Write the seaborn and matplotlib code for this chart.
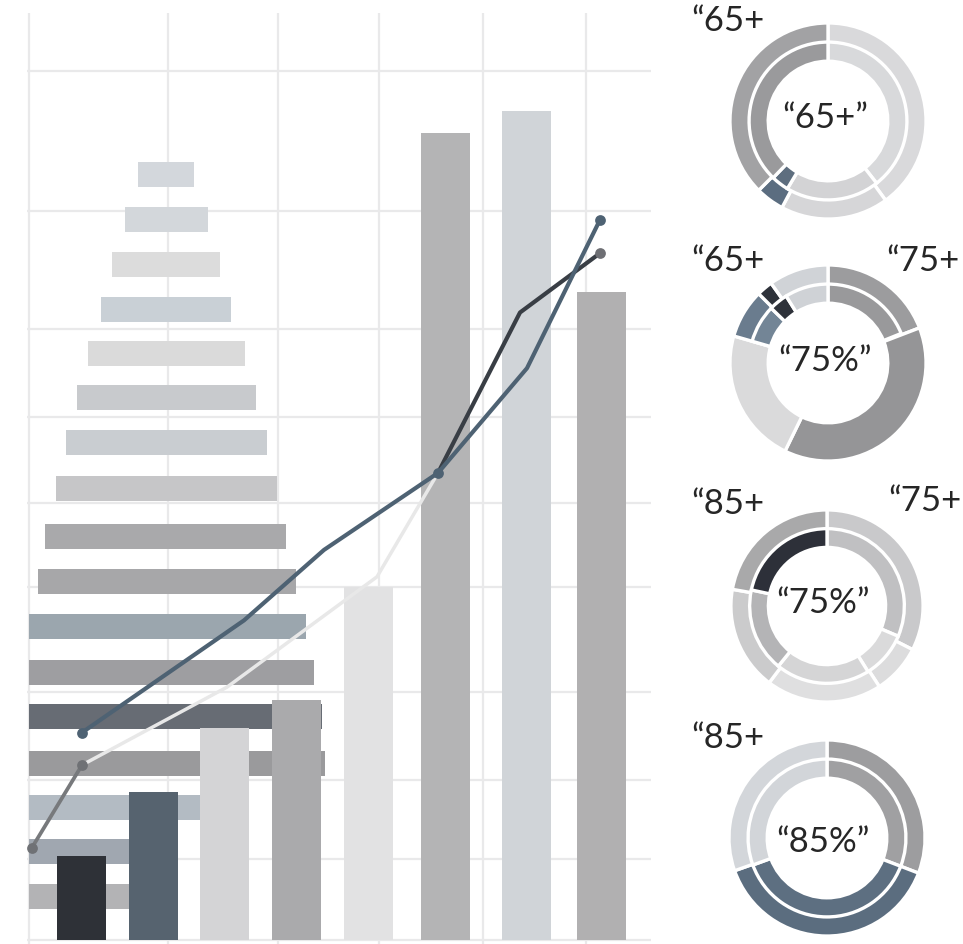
import matplotlib
matplotlib.use("Agg")
import matplotlib.pyplot as plt
import seaborn as sns

# ---------------------------------------------------------------
# datos
# ---------------------------------------------------------------
# barras verticales
bar_x = [5.25, 12.45, 19.55, 26.7, 33.95, 41.6, 49.7, 57.2]
bar_h = [9.1, 16.0, 22.9, 25.9, 38.1, 87.1, 89.4, 69.9]
bar_colors = ["#2e3137", "#56636f", "#d4d4d6", "#aaaaac",
              "#e2e2e3", "#b4b4b5", "#d0d4d8", "#b1b0b1"]

# barras horizontales (piramide)
row_y = [82.6, 77.7, 72.9, 68.0, 63.3, 58.5, 53.7, 48.7, 43.5,
         38.7, 33.8, 28.9, 24.1, 19.1, 14.3, 9.6, 4.7]
row_left = [10.9, 9.6, 8.3, 7.2, 5.9, 4.8, 3.7, 2.7, 1.6,
            0.9, 0.0, 0.0, 0.0, 0.0, 0.0, 0.0, 0.0]
row_right = [16.5, 17.9, 19.1, 20.2, 21.6, 22.7, 23.8, 24.8, 25.7,
             26.7, 27.7, 28.5, 29.3, 29.6, 21.0, 12.0, 12.0]
row_colors = ["#d3d7dc", "#d3d7db", "#dcdcdc", "#c9d0d6", "#dadada",
              "#c8cacd", "#c9cdd1", "#c6c6c8", "#a9a9ab", "#a7a7a9",
              "#9ba6ae", "#9e9ea1", "#676c74", "#9a9a9c", "#b3bbc3",
              "#a0a7b0", "#b3b3b5"]

# lineas
gray_x = [0.3, 5.3]
gray_y = [10.0, 18.9]
light_x = [5.3, 19.8, 34.8, 40.9]
light_y = [18.9, 27.3, 39.2, 50.4]
slate_x = [5.3, 21.5, 29.5, 40.9, 49.8, 57.1]
slate_y = [22.4, 34.5, 42.1, 50.4, 61.7, 77.7]
dark_x = [40.9, 49.1, 57.1]
dark_y = [50.4, 67.7, 74.1]

# rejilla
grid_x = [0, 13.9, 24.9, 35.0, 45.4, 55.7]
grid_y = [0, 8.8, 17.3, 26.8, 38.1, 47.2, 56.4, 65.9, 78.7, 93.7]

# anillos (grados, sentido horario desde arriba)
d1_outer = [144, 64, 17, 135]
d1_inner = [142, 69, 13, 136]
d2_outer = [69, 137, 80, 29, 9.5, 35.5]
d2_inner = [68, 138, 80, 28, 14, 32]
d3_outer = [117, 30, 70, 63, 80]
d3_inner = [113, 35, 71, 63, 78]
d4_outer = [111, 139.5, 109.5]
d4_inner = [111, 139, 110]

d1_outer_c = ["#d9d9db", "#d6d6d8", "#5b6d80", "#a2a2a4"]
d1_inner_c = ["#d8d9db", "#d3d3d5", "#5e6e7f", "#9a9a9c"]
d2_outer_c = ["#9c9c9e", "#959597", "#dadadb", "#6a7c8e", "#2e323a", "#d0d3d7"]
d2_inner_c = ["#99999b", None, None, "#738596", "#2e323a", "#cfd2d6"]
d3_outer_c = ["#c9c9cb", "#dcdcdd", "#dfdfe0", "#cbcbcc", "#a9a9aa"]
d3_inner_c = ["#c0c0c2", "#dadadb", "#d5d5d6", "#b4b4b6", "#2d3039"]
d4_outer_c = ["#9d9d9f", "#5b6d7f", "#d3d6da"]
d4_inner_c = ["#a0a0a2", "#5d6f81", "#d2d5d9"]

center_labels = ["\u201c65+\u201d", "\u201c75%\u201d", "\u201c75%\u201d", "\u201c85%\u201d"]
corner_labels = ["\u201c65+", "\u201c65+", "\u201c75+", "\u201c85+", "\u201c75+", "\u201c85+"]

# ---------------------------------------------------------------
# estilo
# ---------------------------------------------------------------
sns.set_theme(style="whitegrid")
plt.rcParams["font.family"] = ["Lato", "DejaVu Sans"]

W, H = 963, 944
fig = plt.figure(figsize=(W / 100, H / 100), dpi=100)
fig.patch.set_facecolor("white")


def px_box(x0, y0, w, h):
    return [x0 / W, 1 - (y0 + h) / H, w / W, h / H]


# ---------------------------------------------------------------
# grafico principal
# ---------------------------------------------------------------
ax = fig.add_axes(px_box(27, 13, 624, 931))
ax.set_xlim(-0.2, 62.2)
ax.set_ylim(-0.4, 100)
ax.set_xticks(grid_x)
ax.set_yticks(grid_y)
ax.set_xticklabels([])
ax.set_yticklabels([])
ax.tick_params(length=0)
ax.grid(True, color="#e9e9ea", linewidth=1.6)
for s in ax.spines.values():
    s.set_visible(False)
ax.set_facecolor("white")

widths = [r - l for l, r in zip(row_left, row_right)]
ax.barh(row_y, widths, left=row_left, height=2.7, color=row_colors,
        linewidth=0, zorder=2)
ax.bar(bar_x, bar_h, width=4.9, color=bar_colors, linewidth=0, zorder=3)

sns.lineplot(x=gray_x, y=gray_y, color="#77797c", linewidth=2.7, sort=False, ax=ax, zorder=4)
sns.lineplot(x=light_x, y=light_y, color="#e8e8e8", linewidth=2.5, sort=False, ax=ax, zorder=4)
sns.lineplot(x=dark_x, y=dark_y, color="#393e45", linewidth=3.0, sort=False, ax=ax, zorder=5)
sns.lineplot(x=slate_x, y=slate_y, color="#4e6273", linewidth=3.0, sort=False, ax=ax, zorder=6)

ax.scatter([gray_x[0], gray_x[-1]], [gray_y[0], gray_y[-1]], s=60, color="#6f7175",
           linewidth=0, zorder=7)
ax.scatter([dark_x[-1]], [dark_y[-1]], s=60, color="#6e6f74", linewidth=0, zorder=7)
ax.scatter([slate_x[0], slate_x[3], slate_x[-1]], [slate_y[0], slate_y[3], slate_y[-1]],
           s=60, color="#4e6273", linewidth=0, zorder=8)

# ---------------------------------------------------------------
# anillos
# ---------------------------------------------------------------
donuts = [
    ((828, 121, 100), d1_outer, d1_outer_c, d1_inner, d1_inner_c),
    ((828, 363, 100), d2_outer, d2_outer_c, d2_inner, d2_inner_c),
    ((827, 606, 98), d3_outer, d3_outer_c, d3_inner, d3_inner_c),
    ((827, 838, 100), d4_outer, d4_outer_c, d4_inner, d4_inner_c),
]

for (cx, cy, r), outer, outer_c, inner, inner_c in donuts:
    dax = fig.add_axes(px_box(cx - r, cy - r, 2 * r, 2 * r))
    dax.pie(outer, colors=outer_c, radius=1.0, startangle=90, counterclock=False,
            wedgeprops=dict(width=0.39, edgecolor="white", linewidth=2.4))
    wedges, _ = dax.pie(inner, colors=[c if c else "white" for c in inner_c],
                        radius=0.805, startangle=90, counterclock=False,
                        wedgeprops=dict(width=0.195, edgecolor="white", linewidth=2.4))
    for w, c in zip(wedges, inner_c):
        if c is None:
            w.set_visible(False)
    dax.set_xlim(-1.02, 1.02)
    dax.set_ylim(-1.02, 1.02)
    dax.set_aspect("equal")
    dax.axis("off")

# textos
for (cx, cy), txt in zip([(825, 118), (825, 361), (823, 603), (823, 842)], center_labels):
    fig.text(cx / W, 1 - cy / H, txt, ha="center", va="center", fontsize=25,
             color="#262626")

for (x, y), txt in zip([(691, 21), (691, 261), (886, 261), (691, 504), (888, 501), (691, 738)],
                       corner_labels):
    fig.text(x / W, 1 - y / H, txt, ha="left", va="center", fontsize=25,
             color="#262626")

plt.savefig("out.png", dpi=100, facecolor="white")
